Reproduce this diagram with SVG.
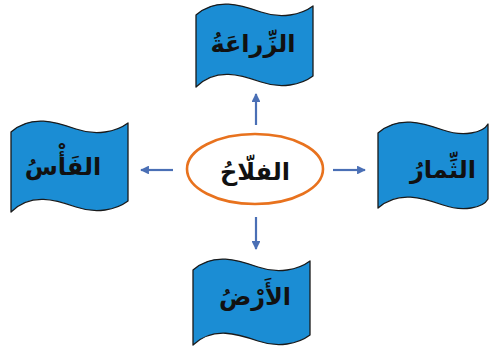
<svg xmlns="http://www.w3.org/2000/svg" width="490" height="347" viewBox="0 0 490 347">
<defs>
<style>
.flag{fill:#1B8DD4;stroke:#1a1a1a;stroke-width:1.3;stroke-linejoin:round}
.lbl{font-family:"DejaVu Sans",sans-serif;font-weight:bold;font-size:24px;fill:#111;text-anchor:middle}
.conn{stroke:#4A6FB5;stroke-width:2.2;fill:none}
</style>
<marker id="ah" viewBox="0 0 10 10" refX="9" refY="5" markerWidth="4" markerHeight="4" orient="auto" markerUnits="strokeWidth">
<path d="M0,0 L10,5 L0,10 Z" fill="#4A6FB5"/>
</marker>
</defs>
<rect width="490" height="347" fill="#fff"/>
<g id="connectors">
<line class="conn" x1="256" y1="125" x2="256" y2="94" marker-end="url(#ah)"/>
<line class="conn" x1="256" y1="217" x2="256" y2="249" marker-end="url(#ah)"/>
<line class="conn" x1="173" y1="170" x2="141" y2="170" marker-end="url(#ah)"/>
<line class="conn" x1="333" y1="170" x2="365" y2="170" marker-end="url(#ah)"/>
</g>
<g id="center">
<ellipse cx="255" cy="169" rx="68" ry="35" fill="#fff" stroke="#E8721E" stroke-width="2.6"/>
<text class="lbl" x="255" y="180" font-size="28">الفلّاحُ</text>
</g>
<g id="top">
<path class="flag" transform="translate(196,3)" d="M0,12 C20,-6 45,2 65,9 C85,16 105,12 117,3 L117,73 C105,82 85,86 65,79 C45,72 20,64 0,84 Z"/>
<text class="lbl" x="253" y="52">الزِّراعَةُ</text>
</g>
<g id="left">
<path class="flag" transform="translate(11,120)" d="M0,12 C20,-6 45,2 65,9 C85,16 105,12 117,3 L117,81 C105,90 85,94 65,87 C45,80 20,72 0,92 Z"/>
<text class="lbl" x="63" y="175">الفَأْسُ</text>
</g>
<g id="right">
<path class="flag" transform="translate(378,121)" d="M0,12 C20,-6 45,2 65,9 C85,16 105,12 110,3 L110,78 C105,87 85,91 65,84 C45,77 20,69 0,87 Z"/>
<text class="lbl" x="443" y="178">الثِّمارُ</text>
</g>
<g id="bottom">
<path class="flag" transform="translate(193,258)" d="M0,12 C20,-6 45,2 65,9 C85,16 105,12 117,3 L117,77 C105,86 85,90 65,83 C45,76 20,68 0,87 Z"/>
<text class="lbl" x="255" y="305">الأَرْضُ</text>
</g>
</svg>
